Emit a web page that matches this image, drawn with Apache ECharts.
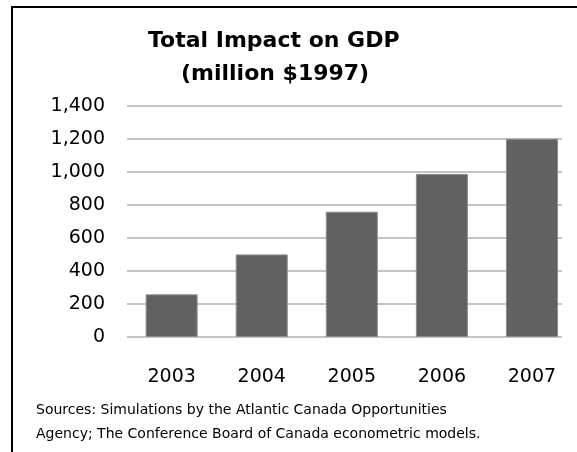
<!DOCTYPE html>
<html>
<head>
<meta charset="utf-8">
<script src="https://cdn.jsdelivr.net/npm/echarts@6/dist/echarts.min.js"></script>
<style>
	html, body { margin: 0; padding: 0; background: #fff; }
	#wrap { position: relative; width: 577px; height: 452px; overflow: hidden; }
	#frame {
		position: absolute; left: 11px; top: 6px; right: -10px; bottom: -10px;
		border-left: 2px solid #000; border-top: 2px solid #000;
	}
	#chart { position: absolute; left: 0; top: 0; width: 577px; height: 452px; }
</style>
</head>
<body>
<div id="wrap">
	<div id="frame"></div>
	<div id="chart"></div>
</div>
<script>
const years = ["2003", "2004", "2005", "2006", "2007"];
const gdpImpact = [258, 500, 758, 987, 1200];
const yTicks = { min: 0, max: 1400, interval: 200 };
const titleLines = ["Total Impact on GDP", "(million $1997)"];
const sourceText = "Sources: Simulations by the Atlantic Canada Opportunities\nAgency; The Conference Board of Canada econometric models.";

const font = "'DejaVu Sans', sans-serif";
const chart = echarts.init(document.getElementById("chart"), null, { width: 577, height: 452 });

chart.setOption({
	animation : false,
	title     : [
		{
			text      : titleLines[0],
			left      : 143,
			top       : 25,
			textStyle : { fontFamily: font, fontSize: 22, fontWeight: "bold", color: "#000" },
		},
		{
			text      : titleLines[1],
			left      : 176,
			top       : 58,
			textStyle : { fontFamily: font, fontSize: 22, fontWeight: "bold", color: "#000" },
		},
		{
			text      : sourceText,
			left      : 31,
			top       : 393,
			textStyle : { fontFamily: font, fontSize: 14, fontWeight: "normal", color: "#000", lineHeight: 24 },
		},
	],
	grid: [
		// grid 0: value gridlines and labels
		{ left: 127, right: 15, top: 105.7, bottom: 115 },
		// grid 1: bars (plot area runs past the cropped right edge)
		{ left: 126.6, width: 453.75, top: 105.7, bottom: 115 },
	],
	xAxis: [
		{ gridIndex: 0, type: "category", data: years, show: false },
		{
			gridIndex : 1,
			type      : "category",
			data      : years,
			axisLine  : { show: false },
			axisTick  : { show: false },
			splitLine : { show: false },
			axisLabel : { fontFamily: font, fontSize: 19, color: "#000", margin: 31 },
		},
	],
	yAxis: [
		{
			gridIndex : 0,
			type      : "value",
			...yTicks,
			axisLine  : { show: false },
			axisTick  : { show: false },
			splitLine : { lineStyle: { color: "#b0b0b0", width: 1.5 } },
			axisLabel : {
				fontFamily : font,
				fontSize   : 19,
				color      : "#000",
				margin     : 22,
				formatter  : v => v.toLocaleString("en-US"),
			},
		},
		{ gridIndex: 1, type: "value", ...yTicks, show: false, splitLine: { show: false } },
	],
	series: [
		{
			type       : "bar",
			xAxisIndex : 1,
			yAxisIndex : 1,
			barWidth   : 52,
			data       : gdpImpact,
			itemStyle  : { color: "#616161", borderColor: "#8c8c8c", borderWidth: 1 },
		},
	],
});
</script>
</body>
</html>
